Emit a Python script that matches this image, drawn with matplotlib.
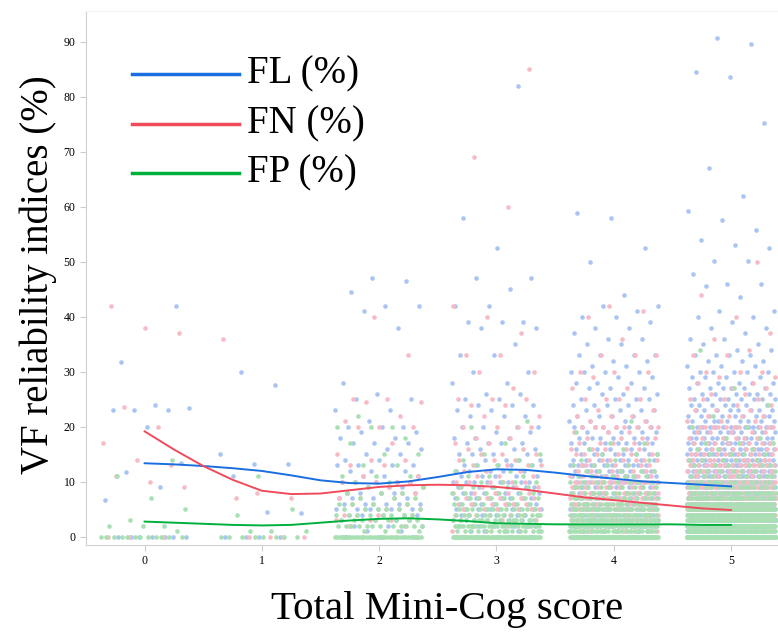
import matplotlib
matplotlib.use("Agg")
from matplotlib import pyplot as plt
from matplotlib.lines import Line2D

# Mini-Cog score categories
scores = [0, 1, 2, 3, 4, 5]

# points per score: {value (%): number of eyes}
fl_points = [
    {0: 7, 6.7: 1, 9: 1, 11.8: 1, 13.4: 1, 20: 1, 23: 3, 23.5: 1, 24: 1, 31.8: 1, 42: 1},
    {0: 4, 4.4: 1, 4.6: 1, 11: 1, 13.3: 2, 15: 1, 27.7: 1, 30: 1},
    {0: 3, 1: 2, 2: 3, 3: 4, 4: 5, 5: 6, 6: 5, 7: 4, 8: 5, 9: 4, 10: 5, 11: 3, 12: 3, 13: 4,
     14: 2, 15: 2, 16: 2, 17: 3, 18: 2, 19: 2, 20: 3, 21: 1, 23: 2, 25: 2, 26: 1, 28: 1,
     38: 1, 41: 1, 42: 2, 44.5: 1, 46.5: 1, 47: 1},
    {0: 6, 1: 5, 2: 6, 3: 8, 4: 8, 5: 10, 6: 8, 7: 8, 8: 7, 9: 6, 10: 8, 11: 5, 12: 5, 13: 5,
     14: 4, 15: 4, 16: 3, 17: 4, 18: 3, 19: 2, 20: 4, 22: 3, 23: 2, 24: 3, 25: 2, 26: 2,
     28: 2, 30: 2, 33: 2, 35: 1, 38: 2, 39: 3, 42: 2, 45: 1, 47: 2, 52.5: 1, 58: 1, 82: 1},
    {0: 10, 1: 8, 2: 10, 3: 14, 4: 14, 5: 16, 6: 14, 7: 14, 8: 12, 9: 10, 10: 14, 11: 10,
     12: 9, 13: 10, 14: 8, 15: 8, 16: 6, 17: 7, 18: 6, 19: 5, 20: 8, 21: 4, 22: 4, 23: 4,
     24: 4, 25: 4, 26: 3, 27: 3, 28: 3, 29: 2, 30: 4, 31: 2, 32: 2, 33: 4, 35: 2, 36: 2,
     37: 1, 38: 2, 39: 1, 40: 2, 41: 1, 42: 2, 44: 1, 50: 1, 52.6: 1, 58: 1, 58.8: 1},
    {0: 25, 1: 20, 2: 25, 3: 30, 4: 32, 5: 35, 6: 32, 7: 32, 8: 30, 9: 26, 10: 30, 11: 22,
     12: 20, 13: 22, 14: 18, 15: 17, 16: 14, 17: 14, 18: 12, 19: 10, 20: 14, 21: 9, 22: 9,
     23: 8, 24: 7, 25: 8, 26: 6, 27: 6, 28: 5, 29: 4, 30: 5, 31: 3, 32: 3, 33: 4, 34: 2,
     35: 2, 36: 2, 37: 1, 38: 2, 39: 1, 40: 2, 41: 2, 43.6: 1, 45.6: 1, 46: 2, 47.8: 1,
     50.2: 2, 52.5: 1, 53: 1, 54: 1, 55.8: 1, 57.6: 1, 59.3: 1, 62: 1, 67: 1, 75.3: 1,
     83.6: 1, 84.5: 1, 89.6: 1, 90.7: 1},
]
fn_points = [
    {0: 3, 9: 1, 10: 1, 11: 1, 13: 1, 14: 1, 17: 1, 20: 1, 23.6: 1, 37: 1, 38: 1, 42: 1},
    {0: 4, 7: 2, 8: 1, 36: 1},
    {0: 4, 2: 2, 3: 3, 4: 4, 5: 4, 6: 3, 7: 3, 8: 4, 9: 3, 10: 5, 11: 2, 13: 2, 14: 2, 15: 1,
     17: 1, 20: 3, 21: 1, 22: 1, 24.5: 2, 25: 2, 33: 1, 40: 1},
    {0: 6, 1: 3, 2: 4, 3: 5, 4: 6, 5: 6, 6: 6, 7: 6, 8: 5, 9: 4, 10: 6, 11: 3, 12: 3, 13: 4,
     14: 3, 15: 3, 16: 2, 17: 2, 18: 2, 20: 4, 22: 2, 24: 2, 25: 3, 27: 1, 30: 2, 33: 2,
     37: 1, 40: 1, 42: 1, 60: 1, 69: 1, 85: 1},
    {0: 12, 1: 8, 2: 10, 3: 12, 4: 14, 5: 14, 6: 14, 7: 14, 8: 12, 9: 10, 10: 14, 11: 8,
     12: 8, 13: 9, 14: 7, 15: 6, 16: 5, 17: 5, 18: 4, 19: 3, 20: 8, 21: 2, 22: 3, 23: 2,
     25: 4, 27: 2, 29: 1, 30: 3, 33: 3, 36: 1, 40: 1, 41: 1, 42: 1},
    {0: 30, 1: 18, 2: 22, 3: 25, 4: 28, 5: 30, 6: 28, 7: 28, 8: 25, 9: 20, 10: 25, 11: 14,
     12: 14, 13: 15, 14: 12, 15: 10, 16: 8, 17: 8, 18: 6, 19: 5, 20: 12, 21: 3, 22: 4,
     23: 3, 24: 2, 25: 4, 26: 2, 27: 2, 28: 2, 29: 2, 30: 3, 33: 2, 34: 1, 36: 1, 37: 1,
     40: 1, 44: 1, 50: 1},
]
fp_points = [
    {0: 12, 1: 1, 2: 3, 3: 1, 5: 1, 7: 1, 11: 1, 14: 1},
    {0: 8, 1: 3, 4: 1, 5: 1, 11: 1},
    {0: 35, 1: 4, 2: 12, 3: 8, 4: 8, 5: 6, 6: 4, 7: 3, 8: 3, 9: 2, 10: 2, 11: 3, 13: 2,
     15: 2, 17: 1, 18: 1, 20: 3, 22: 1},
    {0: 60, 1: 15, 2: 25, 3: 15, 4: 14, 5: 12, 6: 8, 7: 8, 8: 6, 9: 5, 10: 4, 11: 3, 12: 2,
     13: 3, 14: 2, 15: 2, 17: 1, 20: 1, 21: 1},
    {0: 90, 1: 30, 2: 40, 3: 30, 4: 25, 5: 22, 6: 18, 7: 14, 8: 12, 9: 9, 10: 8, 11: 6,
     12: 5, 13: 4, 14: 3, 15: 3, 16: 2, 17: 2, 19: 1, 21: 1},
    {0: 180, 1: 60, 2: 80, 3: 60, 4: 50, 5: 45, 6: 35, 7: 28, 8: 22, 9: 16, 10: 14, 11: 9,
     12: 7, 13: 6, 14: 5, 15: 4, 16: 3, 17: 3, 18: 2, 20: 2, 22: 1, 24: 1, 27: 1, 34: 1},
]

# smoothed curves
curve_x = [0, 0.25, 0.5, 0.75, 1, 1.25, 1.5, 1.75, 2, 2.25, 2.5, 2.75, 3, 3.25, 3.5,
           3.75, 4, 4.25, 4.5, 4.75, 5]
fl_curve = [13.4, 13.2, 12.9, 12.5, 12.0, 11.2, 10.3, 9.8, 9.7, 10.1, 10.9, 11.8, 12.3,
            12.2, 11.7, 11.1, 10.6, 10.1, 9.8, 9.5, 9.2]
fn_curve = [19.2, 15.9, 12.9, 10.4, 8.4, 7.8, 7.9, 8.5, 9.1, 9.4, 9.5, 9.4, 9.1, 8.6,
            7.9, 7.2, 6.7, 6.2, 5.7, 5.2, 4.9]
fp_curve = [2.8, 2.6, 2.4, 2.2, 2.1, 2.2, 2.6, 3.0, 3.3, 3.4, 3.2, 2.9, 2.5, 2.4, 2.3,
            2.3, 2.3, 2.3, 2.3, 2.2, 2.2]

labels = ["FL (%)", "FN (%)", "FP (%)"]
line_colors = ["#1a6fe0", "#f04b5a", "#00b03c"]
dot_colors = ["#aac5f4", "#f8bac4", "#a8e0b4"]

plt.rcParams['font.family'] = ['Liberation Serif', 'DejaVu Serif']

fig = plt.figure(figsize=(7.78, 6.32), dpi=100)
ax = fig.add_axes([0.1105, 0.1377, 0.8895, 0.845])

GOLD = 0.6180339887
HALF = 0.38


def strip(points, color, phase):
    xs, ys = [], []
    k = 0
    for s, dist in zip(scores, points):
        for val, n in dist.items():
            for i in range(n):
                k += 1
                off = ((k * GOLD + phase) % 1.0 - 0.5) * 2 * HALF
                xs.append(s + off)
                ys.append(val)
    ax.scatter(xs, ys, s=11, color=color, linewidths=0, zorder=2)


strip(fl_points, dot_colors[0], 0.11)
strip(fn_points, dot_colors[1], 0.47)
strip(fp_points, dot_colors[2], 0.83)

for curve, c in zip([fl_curve, fn_curve, fp_curve], line_colors):
    ax.plot(curve_x, curve, color=c, lw=1.4, zorder=3)

ax.set_xlim(-0.5, 5.40)
ax.set_ylim(-1.45, 95.6)
ax.set_xticks(scores)
ax.set_yticks(range(0, 100, 10))
ax.tick_params(axis='both', labelsize=8.5, length=4, color='#cccccc', width=0.8)

ax.spines['right'].set_visible(False)
ax.spines['top'].set_color('#f2f2f2')
ax.spines['left'].set_color('#d0d0d0')
ax.spines['bottom'].set_color('#d0d0d0')

fig.text(0.049, 0.566, "VF reliability indices (%)", rotation=90, fontsize=28,
         ha='center', va='center')
fig.text(0.575, 0.036, "Total Mini-Cog score", fontsize=29.5, ha='center', va='center')

# hand-placed legend
leg_y = [74, 124, 173]
for lab, c, yy in zip(labels, line_colors, leg_y):
    yf = 1 - yy / 632
    fig.add_artist(Line2D([132 / 778, 239 / 778], [yf, yf], color=c, lw=2.5))
    fig.text(247 / 778, yf, lab, fontsize=28, ha='left', va='center')

fig.savefig("out.png", dpi=100)
